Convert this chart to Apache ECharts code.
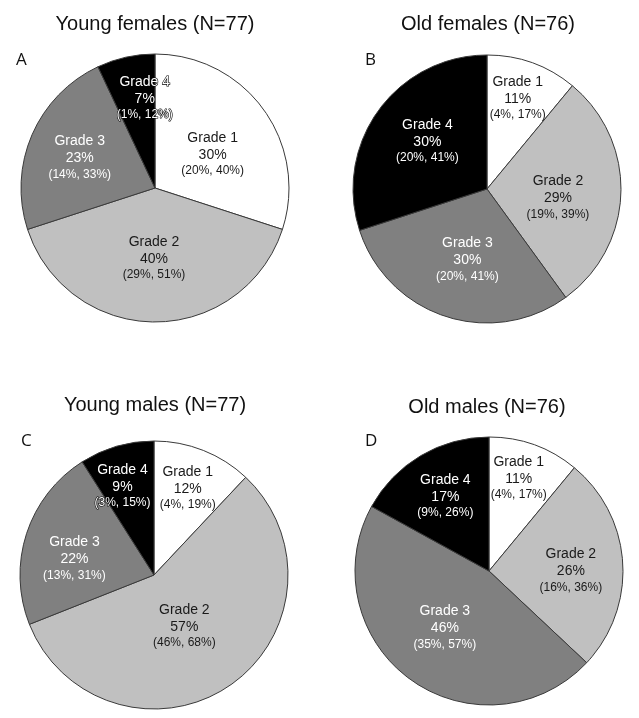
<!DOCTYPE html>
<html><head><meta charset="utf-8">
<script src="https://cdn.jsdelivr.net/npm/echarts@6/dist/echarts.min.js"></script>
<style>html,body{margin:0;padding:0;background:#fff}#c{width:639px;height:718px}</style>
</head><body><div id="c"></div>
<script>
const grades = ['Grade 1', 'Grade 2', 'Grade 3', 'Grade 4'];
const panelTitles = ['Young females (N=77)', 'Old females (N=76)', 'Young males (N=77)', 'Old males (N=76)'];
const panelLetters = ['A', 'B', 'C', 'D'];
const youngFemales = [30, 40, 23, 7];
const youngFemalesCI = [[20, 40], [29, 51], [14, 33], [1, 12]];
const oldFemales = [11, 29, 30, 30];
const oldFemalesCI = [[4, 17], [19, 39], [20, 41], [20, 41]];
const youngMales = [12, 57, 22, 9];
const youngMalesCI = [[4, 19], [46, 68], [13, 31], [3, 15]];
const oldMales = [11, 26, 46, 17];
const oldMalesCI = [[4, 17], [16, 36], [35, 57], [9, 26]];

const panelValues = [youngFemales, oldFemales, youngMales, oldMales];
const panelCIs = [youngFemalesCI, oldFemalesCI, youngMalesCI, oldMalesCI];

// layout (not data)
const centers = [[155, 188], [487, 189], [154, 575], [489, 571]];
const radius = 134;
const sliceColors = ['#ffffff', '#c0c0c0', '#808080', '#000000'];
const textColors = ['#1a1a1a', '#1a1a1a', '#ffffff', '#ffffff'];
const labelBorders = [0, 0, 0, 1.2];
const labelOffsets = [
  [[1, 7], [-1, 0], [-11, -3], [5, -22]],
  [[7, -25], [1, 6], [2, 4], [-3, -7]],
  [[8, -22], [-9, -7], [-13, 5], [-12, -22]],
  [[6, -27], [12, 4], [-3, 0], [-8, -15]]
];
const titlePos = [[150, 9], [483, 9], [150, 390], [482, 392]];
const letterPos = [[11, 47], [360, 47], [16, 428], [360, 428]];

const titles = [];
panelTitles.forEach((t, i) => {
  titles.push({
    text: t, left: titlePos[i][0], top: titlePos[i][1], textAlign: 'center',
    textStyle: { fontFamily: 'Liberation Sans', fontSize: 20, fontWeight: 'normal', color: '#111' }
  });
  titles.push({
    text: panelLetters[i], left: letterPos[i][0], top: letterPos[i][1],
    textStyle: { fontFamily: 'Open Sans', fontSize: 17, fontWeight: 'normal', color: '#111' }
  });
});

const series = panelValues.map((vals, p) => ({
  type: 'pie',
  center: centers[p],
  radius: radius,
  startAngle: 90,
  clockwise: true,
  animation: false,
  silent: true,
  avoidLabelOverlap: false,
  itemStyle: { borderColor: '#3a3a3a', borderWidth: 1 },
  labelLine: { show: false },
  labelLayout: function (params) {
    const o = labelOffsets[p][params.dataIndex];
    return { dx: o[0], dy: o[1] };
  },
  data: vals.map((v, k) => {
    const st = (size, lh) => ({
      fontFamily: 'Liberation Sans', fontSize: size, color: textColors[k], lineHeight: lh, align: 'center',
      textBorderColor: '#000', textBorderWidth: labelBorders[k]
    });
    return {
      name: grades[k],
      value: v,
      itemStyle: { color: sliceColors[k] },
      label: {
        show: true,
        position: 'inner',
        formatter: '{g|' + grades[k] + '}\n{p|' + v + '%}\n{ci|(' + panelCIs[p][k][0] + '%, ' + panelCIs[p][k][1] + '%)}',
        rich: { g: st(14, 17), p: st(14, 17), ci: st(12, 15) }
      }
    };
  })
}));

const chart = echarts.init(document.getElementById('c'), null, { renderer: 'canvas' });
chart.setOption({ backgroundColor: '#ffffff', title: titles, series: series });
</script>
</body></html>
